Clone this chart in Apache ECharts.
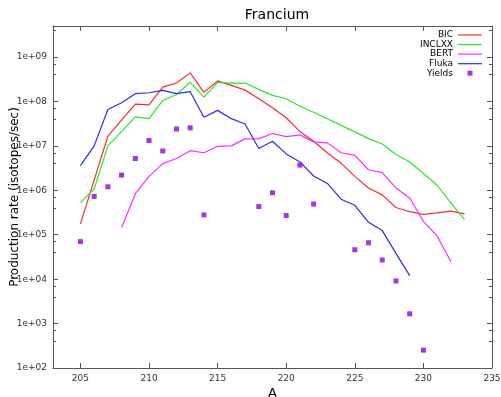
<!DOCTYPE html>
<html>
<head>
<meta charset="utf-8">
<script src="https://cdn.jsdelivr.net/npm/echarts@6/dist/echarts.min.js"></script>
<style>
html,body{margin:0;padding:0;background:#fff;}
#chart{width:501px;height:397px;}
</style>
</head>
<body>
<div id="chart"></div>
<script>
// Mass number A
const massNumbers = [205,206,207,208,209,210,211,212,213,214,215,216,217,218,219,220,221,222,223,224,225,226,227,228,229,230,231,232,233];

// Production rates (isotopes/sec), aligned with massNumbers; null = no value
const bic = [1.76e5,1.7e6,1.65e7,3.8e7,8.7e7,8.4e7,2.1e8,2.6e8,4.4e8,1.6e8,2.9e8,2.3e8,1.8e8,1.15e8,7.2e7,4.3e7,2.1e7,1.27e7,6.9e6,4.1e6,2.06e6,1.13e6,7.9e5,4.1e5,3.3e5,2.86e5,3.1e5,3.4e5,2.95e5];
const inclxx = [5.3e5,1.07e6,1.0e7,2.1e7,4.5e7,4.1e7,1.05e8,1.44e8,2.7e8,1.25e8,2.7e8,2.6e8,2.6e8,1.87e8,1.37e8,1.15e8,7.8e7,5.7e7,4.1e7,2.9e7,2.07e7,1.46e7,1.1e7,6.4e6,4.35e6,2.4e6,1.3e6,5.2e5,2.2e5];
const bert = [null,null,null,1.46e5,8.4e5,2.06e6,4.0e6,5.2e6,7.8e6,7.0e6,9.8e6,1.0e7,1.44e7,1.46e7,1.9e7,1.62e7,1.77e7,1.23e7,1.17e7,7.0e6,6.1e6,2.9e6,2.5e6,1.13e6,6.7e5,2.0e5,9.4e4,2.5e4,null];
const fluka = [3.6e6,1.0e7,6.6e7,9.4e7,1.5e8,1.57e8,1.77e8,1.5e8,1.66e8,4.4e7,6.3e7,4.1e7,3.1e7,8.7e6,1.27e7,6.6e6,4.35e6,2.1e6,1.43e6,6.3e5,4.6e5,1.9e5,1.24e5,3.8e4,1.2e4,null,null,null,null];
const yields = [7.0e4,7.3e5,1.2e6,2.2e6,5.2e6,1.32e7,7.7e6,2.4e7,2.55e7,2.8e5,null,null,null,4.3e5,8.8e5,2.7e5,3.7e6,4.9e5,null,null,4.6e4,6.6e4,2.7e4,9.1e3,1.66e3,252,null,null,null];

const xTickValues = [205,210,215,220,225,230,235];

function pairs(vals){ return massNumbers.map((a,i)=>[a, vals[i]]).filter(p=>p[1]!==null); }
function expLabel(v){
  const l = Math.log10(v);
  const e = Math.round(l);
  if (Math.abs(l-e) > 1e-6) return '';
  return '1e+' + (e<10?'0':'') + e;
}

const FONT = 'DejaVu Sans';
const axisColor = '#555';
const lineIcon = 'path://M0,0 M24,5 M0,2 L24,2 L24,3.2 L0,3.2 Z';
const squareIcon = 'path://M0,0 M24,5 M9.5,0 L14.5,0 L14.5,5 L9.5,5 Z';

const chart = echarts.init(document.getElementById('chart'), null, {renderer:'canvas'});

const xBase = {
  type:'value', min:203, max:235, splitNumber:6,
  axisLine:{show:true, onZero:false, lineStyle:{color:axisColor, width:1}},
  axisTick:{show:true, inside:true, length:5, lineStyle:{color:axisColor}},
  splitLine:{show:false}
};
const yBase = {
  type:'log', logBase:10, min:100, max:5e9,
  axisLine:{show:true, onZero:false, lineStyle:{color:axisColor, width:1}},
  axisTick:{show:true, inside:true, length:5, lineStyle:{color:axisColor}},
  minorTick:{show:true, splitNumber:3, length:3, lineStyle:{color:axisColor}},
  splitLine:{show:false}
};

function line(name, vals, color){
  return {
    name, type:'line', data:pairs(vals), symbol:'none', showSymbol:false,
    lineStyle:{color, width:1.2}, itemStyle:{color}, z:2
  };
}

chart.setOption({
  animation:false,
  backgroundColor:'#fff',
  title:{text:'Francium', left:272, top:3, textAlign:'center',
    textStyle:{fontFamily:FONT, fontSize:14, fontWeight:'normal', color:'#000'}},
  grid:{left:53, right:9, top:26, bottom:29, containLabel:false, outerBoundsMode:'none', show:false},
  legend:{
    orient:'vertical', right:14, top:25, align:'right',
    itemWidth:24, itemHeight:5, itemGap:0,
    textStyle:{fontFamily:FONT, fontSize:9, color:'#000', lineHeight:9.6},
    data:[
      {name:'BIC', icon:lineIcon},{name:'INCLXX', icon:lineIcon},
      {name:'BERT', icon:lineIcon},{name:'Fluka', icon:lineIcon},
      {name:'Yields', icon:squareIcon}
    ]
  },
  xAxis:[
    Object.assign({}, xBase, {position:'bottom',
      name:'A', nameLocation:'middle', nameGap:19, nameMoveOverlap:false,
      nameTextStyle:{fontFamily:FONT, fontSize:13, color:'#000'},
      axisLabel:{show:true, margin:6, fontFamily:FONT, fontSize:9, color:'#333',
        showMinLabel:false,
        formatter:(v)=> xTickValues.indexOf(v)>=0 ? String(v) : ''}}),
    Object.assign({}, xBase, {position:'top', axisLabel:{show:false}})
  ],
  yAxis:[
    Object.assign({}, yBase, {position:'left',
      name:'Production rate (isotopes/sec)', nameLocation:'middle', nameGap:32, nameRotate:90,
      nameMoveOverlap:false,
      nameTextStyle:{fontFamily:FONT, fontSize:12, color:'#000'},
      axisLabel:{show:true, margin:6, fontFamily:FONT, fontSize:9, color:'#333',
        formatter:expLabel}}),
    Object.assign({}, yBase, {position:'right', axisLabel:{show:false}})
  ],
  series:[
    line('BIC', bic, '#ff2a2a'),
    line('INCLXX', inclxx, '#2ae82a'),
    line('BERT', bert, '#ff2aff'),
    line('Fluka', fluka, '#2a2aff'),
    {name:'Yields', type:'scatter', data:pairs(yields), symbol:'rect', symbolSize:5,
      itemStyle:{color:'#9400d3'}, z:3}
  ]
});
</script>
</body>
</html>
